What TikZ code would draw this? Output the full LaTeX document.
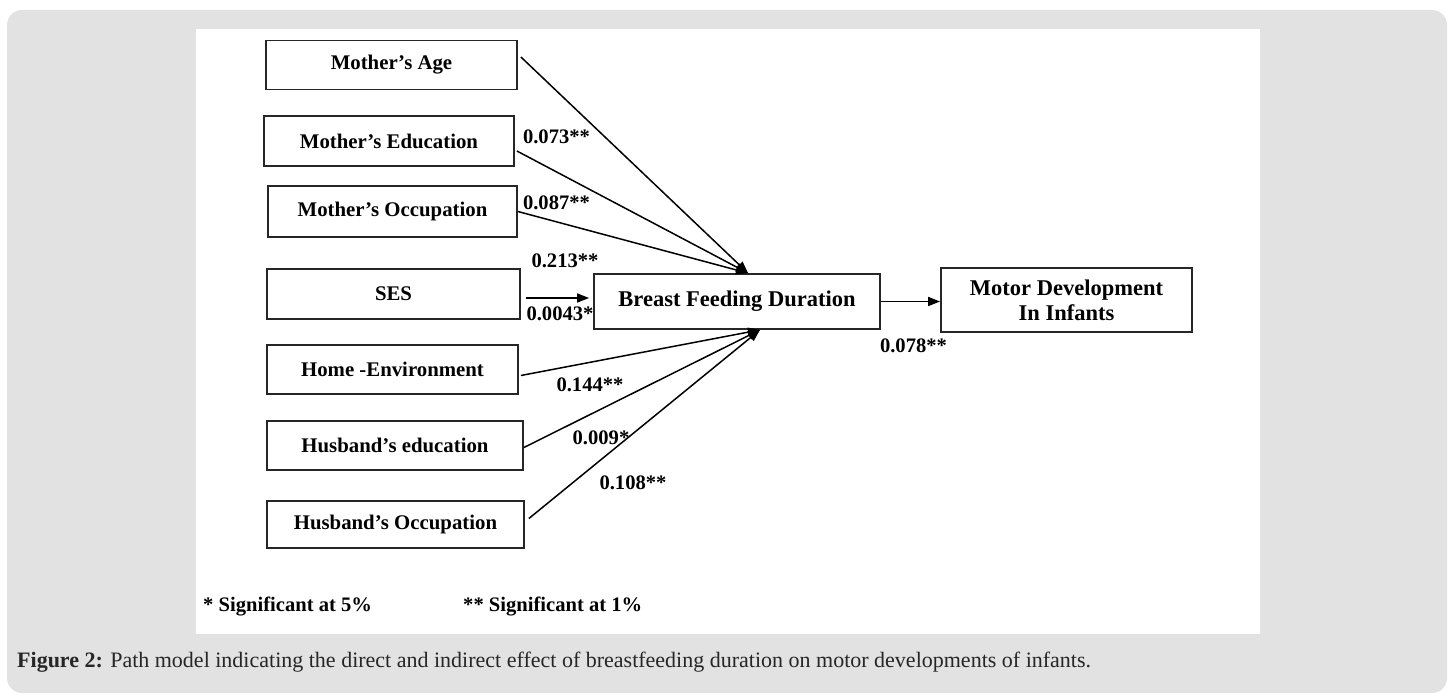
\documentclass[tikz,border=0pt]{standalone}
\usepackage{fontspec}
\setmainfont{Liberation Serif}
\usetikzlibrary{arrows.meta,calc}

\definecolor{panelgray}{HTML}{E2E2E2}

\def\boxw{251}
\def\boxh{49}
\def\tipl{12pt}
\def\tipw{9pt}

\tikzset{
  var/.style={draw=black!85, line width=1.8pt, minimum width=\boxw pt, minimum height=\boxh pt,
    inner sep=0pt, font=\bfseries\fontsize{20.8}{25}\selectfont},
  coef/.style={inner sep=0pt, font=\bfseries\fontsize{20.6}{24}\selectfont},
  effect/.style={line width=1.5pt, -{Triangle[length=\tipl,width=\tipw]}},
}

\begin{document}
\begin{tikzpicture}[x=1pt, y=-1pt]
 \useasboundingbox (0,0) rectangle (1453,698);
 \fill[panelgray, rounded corners=15pt] (7,10) rectangle (1447,693);
 \fill[white] (196,29) rectangle (1260,634);

 % explanatory variables
 \node[var] (age)    at (391.5,65)  {Mother’s Age};
 \node[var, minimum width=250pt, minimum height=50pt] (edu) at (389,141) {Mother’s Education};
 \node[var, minimum width=249pt, minimum height=51pt] (occ) at (392.5,211.5) {Mother’s Occupation};
 \node[var, minimum width=253pt, minimum height=50pt] (ses) at (393.5,294) {SES};
 \node[var] (home)   at (392.5,369.5) {Home -Environment};
 \node[var, minimum width=256pt] (husedu) at (395,445.5) {Husband’s education};
 \node[var, minimum width=257pt, minimum height=47pt] (husocc) at (395.5,524.5) {Husband’s Occupation};

 \node[var, minimum width=286pt, minimum height=55pt, font=\bfseries\fontsize{22.5}{26}\selectfont] (bfd) at (737,301.5) {Breast Feeding Duration};
 \node[var, minimum height=64pt, align=center, font=\bfseries\fontsize{22.5}{25}\selectfont] (motor) at (1066.5,300) {Motor Development\\In Infants};

 \coordinate (topin) at ($(bfd.north)+(11,0)$);
 \coordinate (botin) at ($(bfd.south)+(23,0)$);
 \coordinate (sesout) at ($(ses.east)+(5,4)$);

 \draw[effect] ($(age.east)+(3,-8)$) -- (topin);
 \draw[effect] ($(edu.east)+(2,10)$) -- (topin);
 \draw[effect] (occ.east) -- (topin);
 \draw[effect, shorten >=4pt] (sesout) -- (sesout -| bfd.west);
 \draw[effect] ($(home.east)+(2,6)$) -- (botin);
 \draw[effect] ($(husedu.east)+(0,2)$) -- (botin);
 \draw[effect] ($(husocc.east)+(4,-6)$) -- (botin);
 \draw[effect] (bfd.east) -- (bfd.east -| motor.west);

 \node[coef] (cedu)   at (556.5,137) {0.073**};
 \node[coef] (cocc)   at (556.5,203) {0.087**};
 \node[coef] (cses1)  at (565,261)   {0.213**};
 \node[coef] (cses2)  at (560,314)   {0.0043*};
 \node[coef] (chome)  at (590,385)   {0.144**};
 \node[coef] (chedu)  at (601,438)   {0.009*};
 \node[coef] (chocc)  at (633,483)   {0.108**};
 \node[coef] (cmotor) at (913.5,346) {0.078**};

 \node[coef, anchor=west] (sig5) at (203,607) {* Significant at 5\%};
 \node[coef, anchor=west] (sig1) at (463,607) {** Significant at 1\%};

 \node[anchor=west, inner sep=0pt, text=black!85, font=\fontsize{22}{26}\selectfont] (caption) at (17,662)
   {\textbf{Figure 2:} Path model indicating the direct and indirect effect of breastfeeding duration on motor developments of infants.};
\end{tikzpicture}
\end{document}
